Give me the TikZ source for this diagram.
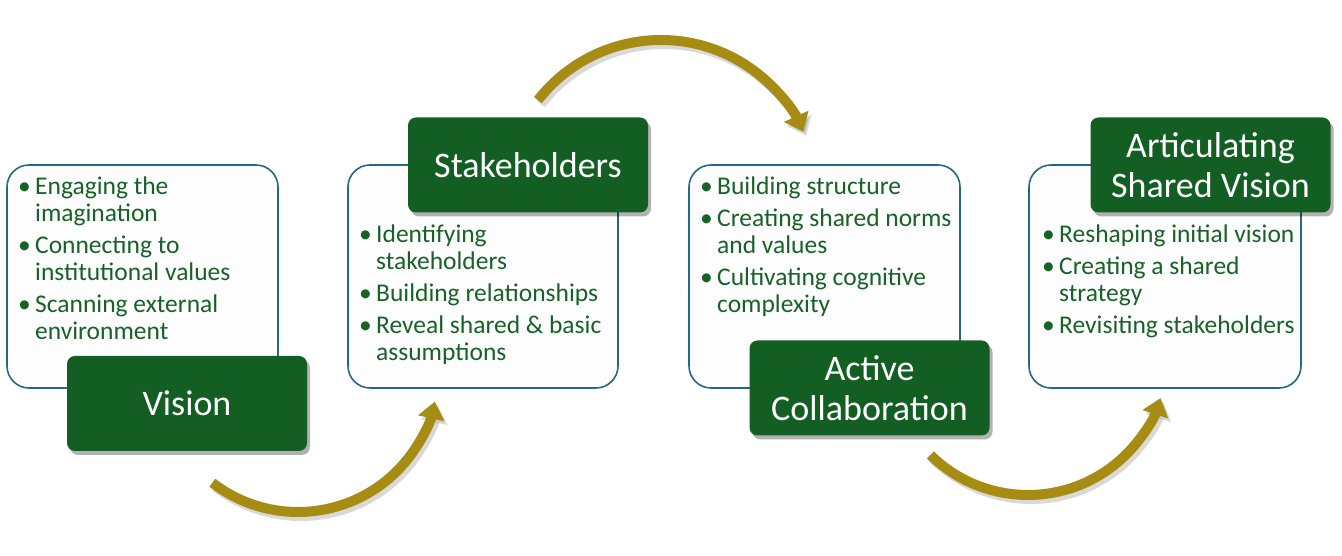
\documentclass[tikz,border=0pt]{standalone}
\usepackage{fontspec}
\setmainfont{Carlito}
\usetikzlibrary{arrows.meta,shadows}
\definecolor{lblgreen}{RGB}{19,94,34}
\definecolor{txtgreen}{RGB}{24,98,40}
\definecolor{boxline}{RGB}{36,104,132}
\definecolor{gold}{RGB}{167,140,20}
\definecolor{boxfill}{RGB}{253,253,253}
\newcommand\bitems[1]{\vtop{\hsize=270pt\parindent=0pt\parskip=5pt\fontsize{25.5}{27}\selectfont\rightskip=0pt plus 1fil #1}}
\newcommand\bi[1]{\par\hangindent=17pt\hangafter=1\makebox[17pt][l]{\textbullet}#1}
\newcommand\nl{\hfil\break}
\tikzset{
  panel/.style={draw=boxline, line width=1.6pt, fill=boxfill, rounded corners=22pt},
  label/.style={rectangle, fill=lblgreen, rounded corners=8pt, minimum width=240pt, minimum height=95pt,
     text=white, align=center, font=\fontsize{36}{40}\selectfont, inner sep=0pt,
     drop shadow={shadow xshift=3pt, shadow yshift=-4pt, opacity=0.3, fill=black}},
  items/.style={anchor=base west, inner sep=0pt, text=txtgreen},
  flow/.style={draw=gold, line width=10pt, -{Triangle[width=26pt,length=17pt]}},
  flowshadow/.style={draw=black, opacity=0.15, line width=10pt, -{Triangle[width=26pt,length=17pt]}},
}
\begin{document}
\begin{tikzpicture}[x=1pt,y=1pt]
\useasboundingbox (0,0) rectangle (1342,556);
% panels
\draw[panel] (7,168) rectangle (278,391);
\draw[panel] (348,168) rectangle (618,391);
\draw[panel] (689,168) rectangle (960,391);
\draw[panel] (1029,168) rectangle (1301,391);
% bullet texts
\node[items] (t1) at (18,361) {\bitems{\bi{Engaging the\nl imagination}\bi{Connecting to\nl institutional values}\bi{Scanning external\nl environment}}};
\node[items] (t2) at (359,313) {\bitems{\bi{Identifying\nl stakeholders}\bi{Building relationships}\bi{Reveal shared \& basic\nl assumptions}}};
\node[items] (t3) at (700,361) {\bitems{\bi{Building structure}\bi{Creating shared norms\nl and values}\bi{Cultivating cognitive\nl complexity}}};
\node[items] (t4) at (1042,313) {\bitems{\bi{Reshaping initial vision}\bi{Creating a shared\nl strategy}\bi{Revisiting stakeholders}}};
% labels
\node[label] (vision) at (187,152.5) {Vision};
\node[label] (stake) at (528,391) {Stakeholders};
\node[label] (collab) at (869.5,168) {Active\\Collaboration};
\node[label] (artic) at (1210.5,391) {Articulating\\Shared Vision};
% arrows
\coordinate (c1) at (298,184);
\coordinate (c2) at (661,360);
\coordinate (c3) at (1028,200);
\draw[flowshadow] ([shift={(3,-4)}]c1) ++(232.3:140) arc[start angle=232.3, end angle=347.8, radius=140];
\draw[flow] (c1) ++(232.3:140) arc[start angle=232.3, end angle=347.8, radius=140];
\draw[flowshadow] ([shift={(3,-4)}]c2) ++(142.1:156) arc[start angle=142.1, end angle=24.3, radius=156];
\draw[flow] (c2) ++(142.1:156) arc[start angle=142.1, end angle=24.3, radius=156];
\draw[flowshadow] ([shift={(3,-4)}]c3) ++(225.4:139) arc[start angle=225.4, end angle=342.4, radius=139];
\draw[flow] (c3) ++(225.4:139) arc[start angle=225.4, end angle=342.4, radius=139];
\end{tikzpicture}
\end{document}
